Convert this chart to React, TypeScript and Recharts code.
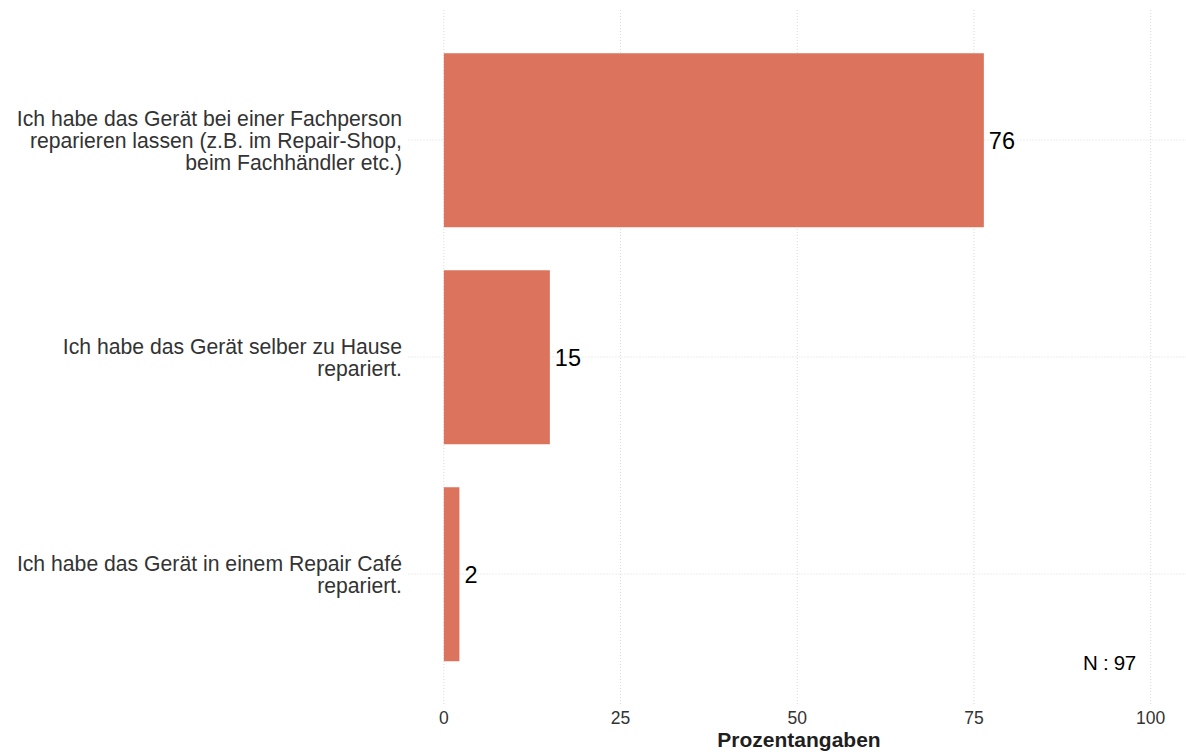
import React from "react";
import { BarChart, Bar, XAxis, YAxis, CartesianGrid, LabelList } from "recharts";

const categories = [
  "Ich habe das Gerät bei einer Fachperson\nreparieren lassen (z.B. im Repair-Shop,\nbeim Fachhändler etc.)",
  "Ich habe das Gerät selber zu Hause\nrepariert.",
  "Ich habe das Gerät in einem Repair Café\nrepariert.",
];
const values = [76.4, 15.0, 2.2];
const xTicks = [0, 25, 50, 75, 100];
const sampleNote = "N : 97";
const axisTitle = "Prozentangaben";

const data = categories.map((c, i) => ({ name: c, value: values[i] }));

const FONT = "'Liberation Sans', Arial, Helvetica, sans-serif";
const BAR_COLOR = "#DB735D";

const YTick = (props: any) => {
  const { x, y, payload } = props;
  const lines = String(payload.value).split("\n");
  const lh = 22;
  const startY = y - ((lines.length - 1) * lh) / 2;
  return (
    <g>
      {lines.map((l, i) => (
        <text
          key={i}
          x={x}
          y={startY + i * lh}
          textAnchor="end"
          dominantBaseline="central"
          fontFamily={FONT}
          fontSize={21.2}
          fill="#333333"
        >
          {l}
        </text>
      ))}
    </g>
  );
};

const XTick = (props: any) => {
  const { x, payload } = props;
  return (
    <text x={x} y={724} textAnchor="middle" fontFamily={FONT} fontSize={17.5} fill="#333333">
      {payload.value}
    </text>
  );
};

export default function App() {
  return (
    <div style={{ position: "absolute", left: 0, top: 0, width: 1186, height: 752, background: "#fff" }}>
      <BarChart
        width={1186}
        height={752}
        data={data}
        layout="vertical"
        margin={{ top: 10, right: 0, bottom: 0, left: 0 }}
        barCategoryGap="10%"
      >
        <CartesianGrid stroke="#d9d9d9" strokeDasharray="1 2" syncWithTicks />
        <XAxis
          type="number"
          domain={[-5, 105]}
          ticks={xTicks}
          allowDataOverflow
          axisLine={false}
          tickLine={false}
          height={48}
          tick={<XTick />}
        />
        <YAxis
          type="category"
          dataKey="name"
          width={408.5}
          axisLine={false}
          tickLine={false}
          padding={{ top: 21.5, bottom: 21.5 }}
          tick={<YTick />}
          tickSize={0}
          tickMargin={6.5}
          interval={0}
        />
        <Bar dataKey="value" fill={BAR_COLOR} isAnimationActive={false}>
          <LabelList
            dataKey="value"
            position="right"
            offset={5}
            formatter={(v: any) => Math.round(Number(v))}
            fill="#000"
            fontFamily={FONT}
            fontSize={23.5}
          />
        </Bar>
      </BarChart>
      <div
        style={{
          position: "absolute",
          left: 700,
          top: 728,
          width: 198,
          textAlign: "center",
          fontFamily: FONT,
          fontWeight: "bold",
          fontSize: 21,
          color: "#1f1f1f",
          whiteSpace: "nowrap",
          lineHeight: "24px",
        }}
      >
        {axisTitle}
      </div>
      <div
        style={{
          position: "absolute",
          left: 1083,
          top: 651,
          fontFamily: FONT,
          fontSize: 20.5,
          color: "#000",
          whiteSpace: "nowrap",
          lineHeight: "24px",
          letterSpacing: "-0.3px",
        }}
      >
        {sampleNote}
      </div>
    </div>
  );
}
